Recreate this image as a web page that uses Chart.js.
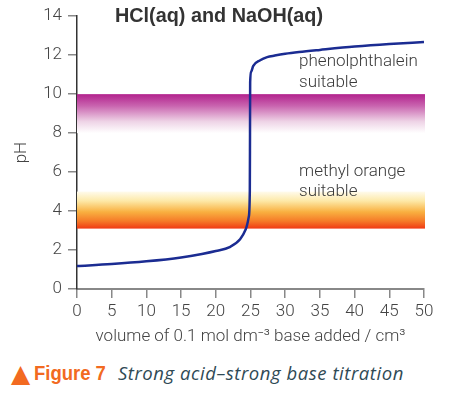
<!DOCTYPE html>
<html>
<head>
<meta charset="utf-8">
<script src="https://cdn.jsdelivr.net/npm/chart.js@4"></script>
<style>
  body { margin: 0; background: #fff; }
  #wrap { position: relative; width: 453px; height: 355px; }
  .caption { position: absolute; left: 11px; top: 359px; white-space: nowrap; }
  .tri { color: #f26a21; font-family: "DejaVu Sans"; font-size: 25px; vertical-align: -2px; }
  .fig { display: inline-block; color: #f26a21; font-family: "Liberation Sans"; font-weight: bold; font-size: 21px;
         transform: scaleX(0.88); transform-origin: left center; margin-left: 4px; margin-right: -9px; }
  .desc { color: #2f4a55; font-family: "Open Sans"; font-style: italic; font-size: 18.5px; letter-spacing: 0.55px; margin-left: 11px; }
</style>
</head>
<body>
<div id="wrap"><canvas id="c" width="453" height="355"></canvas></div>
<div class="caption"><span class="tri">▲</span><span class="fig">Figure 7</span><span class="desc">Strong acid–strong base titration</span></div>
<script>
// volume of base added (cm3) and pH
const volume = [0, 5, 10, 15, 18, 20, 22, 23.5, 24.3, 24.75, 24.9, 24.93, 24.95, 25.1, 25.4, 26.4, 27.4, 28.5, 30, 32, 35, 40, 45, 50];
const pH = [1.18, 1.28, 1.42, 1.62, 1.8, 1.95, 2.15, 2.55, 3.05, 3.7, 5, 8, 10.6, 11.15, 11.45, 11.74, 11.9, 11.98, 12.07, 12.16, 12.27, 12.44, 12.57, 12.67];

// indicator ranges (pH)
const phenolRange = [8, 10];
const methylRange = [3.1, 5];

// labels in data coordinates: [volume, pH, text]
const notes = [
  [32, 11.64, "phenolphthalein"],
  [32, 10.6, "suitable"],
  [32, 6.0, "methyl orange"],
  [32, 4.97, "suitable"]
];

const titleText = "HCl(aq) and NaOH(aq)";

const tickFont = { family: "Roboto", size: 17, weight: 300 };

const bands = {
  id: "bands",
  beforeDatasetsDraw(chart) {
    const { ctx, scales: { x, y } } = chart;
    const l = x.getPixelForValue(0), r = x.getPixelForValue(50) + 1;

    let top = y.getPixelForValue(phenolRange[1]), bot = y.getPixelForValue(phenolRange[0]);
    let g = ctx.createLinearGradient(0, top, 0, bot);
    g.addColorStop(0, "#b2228d");
    g.addColorStop(0.3, "#c964af");
    g.addColorStop(0.7, "#eed3e6");
    g.addColorStop(1, "#ffffff");
    ctx.fillStyle = g;
    ctx.fillRect(l, top, r - l, bot - top);

    top = y.getPixelForValue(methylRange[1]); bot = y.getPixelForValue(methylRange[0]);
    g = ctx.createLinearGradient(0, top, 0, bot);
    g.addColorStop(0, "#fffbec");
    g.addColorStop(0.25, "#fde9a8");
    g.addColorStop(0.55, "#f9b040");
    g.addColorStop(0.8, "#f57a28");
    g.addColorStop(1, "#f03a14");
    ctx.fillStyle = g;
    ctx.fillRect(l, top, r - l, bot - top);
  },
  afterDraw(chart) {
    const { ctx, scales: { x, y } } = chart;
    ctx.save();
    ctx.fillStyle = "#3a3a3a";
    ctx.font = "300 17px Roboto";
    ctx.textAlign = "left";
    ctx.textBaseline = "middle";
    notes.forEach(n => ctx.fillText(n[2], x.getPixelForValue(n[0]), y.getPixelForValue(n[1])));

    // condensed bold title
    ctx.fillStyle = "#333";
    ctx.font = "bold 21px 'Liberation Sans'";
    ctx.textAlign = "center";
    ctx.textBaseline = "alphabetic";
    const w = ctx.measureText(titleText).width;
    const k = 208 / w;
    ctx.translate(219, 22);
    ctx.scale(k, 1);
    ctx.fillText(titleText, 0, 0);
    ctx.restore();
  }
};

new Chart(document.getElementById("c"), {
  type: "line",
  data: {
    datasets: [{
      data: volume.map((v, i) => ({ x: v, y: pH[i] })),
      borderColor: "#1b2c92",
      borderWidth: 2.5,
      pointRadius: 0,
      cubicInterpolationMode: "monotone",
      fill: false
    }]
  },
  options: {
    responsive: false,
    animation: false,
    layout: { padding: { top: 16, right: 29, left: 0, bottom: 0 } },
    plugins: { legend: { display: false }, tooltip: { enabled: false } },
    scales: {
      x: {
        type: "linear", min: 0, max: 50,
        ticks: { stepSize: 5, color: "#444", font: tickFont, padding: 4, maxRotation: 0 },
        grid: { drawOnChartArea: false, tickLength: 9, color: "#888", lineWidth: 1.5 },
        border: { color: "#888", width: 2 },
        title: { display: true, text: "volume of 0.1 mol dm⁻³ base added / cm³", color: "#444", font: tickFont, padding: { top: 0, bottom: 8 } },
        afterFit(s) { s.height = 66; }
      },
      y: {
        min: 0, max: 14,
        ticks: { stepSize: 2, color: "#444", font: tickFont, padding: 6 },
        grid: { drawOnChartArea: false, tickLength: 9, color: "#888", lineWidth: 1.5 },
        border: { color: "#333", width: 1.5 },
        title: { display: true, text: "pH", color: "#444", font: tickFont, padding: { top: 12, bottom: 0 } },
        afterFit(s) { s.width = 77; }
      }
    }
  },
  plugins: [bands]
});
</script>
</body>
</html>
